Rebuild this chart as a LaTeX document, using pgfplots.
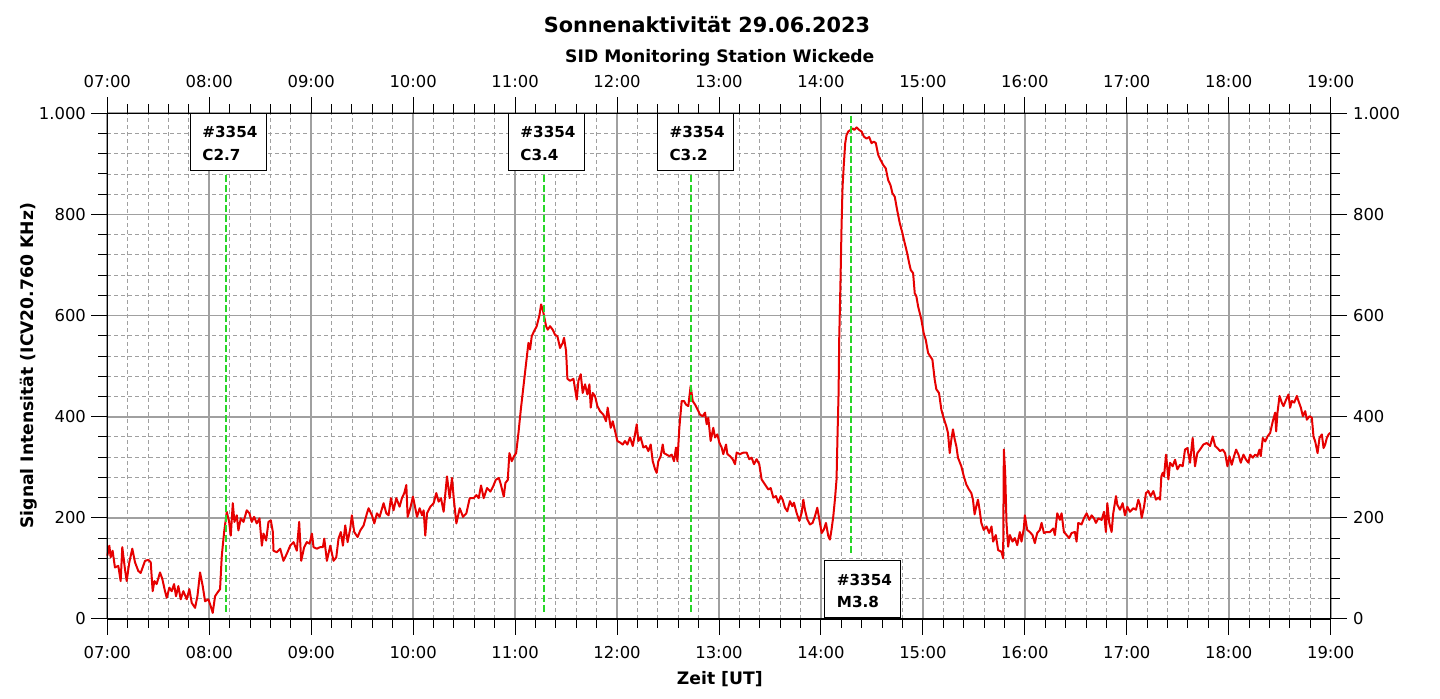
\documentclass[border=0pt]{standalone}
\usepackage{fontspec}
\setmainfont{DejaVu Sans}
\usepackage{pgfplots}
\pgfplotsset{compat=1.18}
\definecolor{sigred}{RGB}{230,0,0}
\definecolor{flgreen}{RGB}{40,215,40}
\definecolor{gridgray}{RGB}{160,160,160}
\newcommand{\tickfont}{\fontsize{8.2pt}{9.6pt}\selectfont}
\newcommand{\labfont}{\fontsize{8.6pt}{10pt}\selectfont\bfseries}
\newcommand{\boxfont}{\fontsize{7.6pt}{9pt}\selectfont\bfseries}
\newcommand{\flarebox}[3]{%
  \draw[black, line width=0.6pt, fill=white] (axis cs:#1,#2) rectangle ([xshift=38pt,yshift=-28.5pt]axis cs:#1,#2);
  \node[anchor=base west, font=\boxfont, inner sep=0pt] at ([xshift=5.85pt,yshift=-12.15pt]axis cs:#1,#2) {\#3354};
  \node[anchor=base west, font=\boxfont, inner sep=0pt] at ([xshift=5.85pt,yshift=-23.5pt]axis cs:#1,#2) {#3};
}
\pgfplotsset{
  sidbase/.style={
    at={(0,0)}, anchor=south west, scale only axis,
    width=611.7pt, height=252.85pt,
    xmin=7, xmax=19, ymin=0, ymax=1000,
    xtick={7,8,...,19},
    xticklabels={07:00,08:00,09:00,10:00,11:00,12:00,13:00,14:00,15:00,16:00,17:00,18:00,19:00},
    ytick={0,200,...,1000},
    minor x tick num=4, minor y tick num=4,
    tick align=outside, major tick length=8pt, minor tick length=4.5pt,
    tick style={black, line width=0.5pt},
    axis line style={black, line width=0.6pt},
    /pgf/number format/assume math mode=true,
    /pgf/number format/1000 sep={.},
    scaled y ticks=false,
    tick label style={font=\tickfont, inner sep=0pt},
    clip=false,
  }
}
\begin{document}
\begin{tikzpicture}
\useasboundingbox (-53.65pt,-40pt) rectangle (666.35pt,309.5pt);
\begin{axis}[sidbase,
  xticklabel pos=lower, yticklabel pos=left,
  xticklabel style={yshift=-5.35pt},
  yticklabel style={xshift=-2.5pt},
  grid=both,
  major grid style={gridgray, line width=0.9pt},
  minor grid style={gridgray, line width=0.45pt, dash pattern=on 2pt off 1.5pt},
]
\addplot[sigred, line width=1pt, line join=round] coordinates {
(7.000,125)(7.020,145)(7.033,122)(7.052,135)(7.075,102)(7.108,105)(7.131,75)(7.147,142)(7.173,99)(7.190,75)(7.216,112)(7.245,139)(7.272,112)(7.304,95)(7.327,91)(7.347,102)(7.370,115)(7.403,117)(7.426,112)(7.445,55)(7.462,75)(7.484,69)(7.517,92)(7.540,79)(7.566,55)(7.583,42)(7.609,62)(7.632,55)(7.655,69)(7.674,45)(7.697,65)(7.720,39)(7.746,55)(7.779,39)(7.805,59)(7.828,32)(7.861,22)(7.884,45)(7.910,92)(7.936,65)(7.959,35)(7.992,39)(8.015,25)(8.034,12)(8.057,45)(8.080,52)(8.106,59)(8.123,125)(8.146,172)(8.172,212)(8.195,192)(8.211,165)(8.231,229)(8.247,192)(8.270,205)(8.286,175)(8.309,199)(8.336,192)(8.368,215)(8.394,209)(8.417,192)(8.440,202)(8.466,189)(8.493,199)(8.516,145)(8.532,169)(8.558,155)(8.581,192)(8.604,195)(8.624,172)(8.630,135)(8.663,132)(8.696,139)(8.728,115)(8.761,129)(8.794,145)(8.827,152)(8.859,135)(8.882,192)(8.902,115)(8.931,142)(8.957,152)(8.984,149)(9.007,169)(9.023,142)(9.056,139)(9.088,142)(9.115,142)(9.128,159)(9.154,115)(9.187,145)(9.219,115)(9.246,122)(9.268,159)(9.291,172)(9.311,145)(9.334,185)(9.357,152)(9.383,179)(9.399,205)(9.422,172)(9.455,162)(9.481,175)(9.514,185)(9.547,209)(9.563,219)(9.596,205)(9.619,189)(9.645,209)(9.671,202)(9.710,229)(9.737,209)(9.759,205)(9.782,239)(9.808,215)(9.835,239)(9.867,222)(9.890,239)(9.913,249)(9.933,265)(9.946,202)(9.972,219)(9.998,242)(10.021,219)(10.038,202)(10.064,219)(10.087,205)(10.103,215)(10.119,165)(10.136,209)(10.169,222)(10.201,229)(10.227,249)(10.250,232)(10.273,239)(10.299,212)(10.332,282)(10.358,239)(10.381,279)(10.398,239)(10.424,189)(10.457,219)(10.489,202)(10.522,209)(10.555,239)(10.594,239)(10.620,245)(10.643,239)(10.666,264)(10.692,239)(10.725,259)(10.758,252)(10.784,262)(10.810,275)(10.840,279)(10.856,269)(10.889,242)(10.905,269)(10.928,275)
(10.944,328)(10.967,312)(10.990,322)(11.010,328)(11.033,368)(11.056,414)(11.082,460)(11.108,506)(11.131,546)(11.147,533)(11.163,559)(11.186,569)(11.212,579)(11.239,601)(11.255,622)(11.271,612)(11.288,595)(11.304,579)(11.320,572)(11.343,579)(11.369,572)(11.392,562)(11.415,559)(11.441,536)(11.467,546)(11.480,556)(11.500,530)(11.513,475)(11.539,471)(11.572,475)(11.605,434)(11.621,471)(11.644,484)(11.663,447)(11.686,464)(11.709,444)(11.729,464)(11.742,418)(11.761,447)(11.784,441)(11.807,421)(11.833,411)(11.866,404)(11.892,391)(11.908,418)(11.938,378)(11.958,391)(11.980,372)(12.003,352)(12.029,349)(12.056,345)(12.078,352)(12.101,345)(12.127,359)(12.154,342)(12.176,365)(12.193,385)(12.209,352)(12.232,359)(12.258,339)(12.284,342)(12.307,332)(12.330,345)(12.350,312)(12.373,296)(12.389,289)(12.405,312)(12.428,322)(12.448,345)(12.461,328)(12.487,325)(12.513,322)(12.536,325)(12.559,312)(12.578,339)(12.592,312)(12.611,378)(12.634,431)(12.657,431)(12.676,424)(12.699,421)(12.722,461)(12.742,431)(12.765,424)(12.788,415)(12.814,404)(12.840,401)(12.863,408)(12.879,385)(12.895,398)(12.918,352)(12.944,378)(12.961,359)(12.984,365)(13.003,349)(13.026,339)(13.042,326)(13.069,345)(13.082,326)(13.108,322)(13.134,316)(13.157,306)(13.173,329)(13.206,326)(13.239,329)(13.271,329)(13.297,316)(13.320,319)(13.343,306)(13.369,316)(13.395,306)(13.418,276)(13.441,269)(13.461,263)(13.484,256)(13.507,259)(13.533,240)(13.559,243)(13.582,230)(13.605,243)(13.624,236)(13.647,220)(13.670,213)(13.696,233)(13.719,223)(13.735,230)(13.761,210)(13.788,194)
(13.811,210)(13.827,236)(13.843,216)(13.866,197)(13.892,187)(13.918,190)(13.941,203)(13.964,220)(13.984,197)(14.007,170)(14.029,177)(14.049,190)(14.072,164)(14.088,157)(14.104,177)(14.121,203)(14.137,236)(14.153,276)(14.163,368)(14.173,447)(14.179,553)(14.192,671)(14.202,776)(14.212,855)(14.225,901)(14.238,941)(14.251,957)(14.268,964)(14.290,967)(14.310,970)(14.326,967)(14.349,972)(14.375,967)(14.398,964)(14.421,954)(14.447,950)(14.473,953)(14.496,941)(14.519,944)(14.538,941)(14.561,918)(14.584,908)(14.610,898)(14.636,891)(14.659,868)(14.682,858)(14.701,842)(14.724,835)(14.747,809)(14.773,783)(14.799,763)(14.822,743)(14.845,724)(14.865,704)(14.881,690)(14.904,684)(14.920,644)(14.936,638)(14.953,618)(14.969,605)(14.985,592)(15.008,565)(15.028,552)(15.051,526)(15.073,519)(15.093,513)(15.116,473)(15.132,454)(15.158,447)(15.181,414)(15.204,397)(15.230,381)(15.246,368)(15.263,328)(15.279,355)(15.295,375)(15.312,355)(15.328,342)(15.344,319)(15.377,302)(15.400,283)(15.426,266)(15.452,256)(15.475,249)(15.491,236)(15.507,207)(15.524,223)(15.540,236)(15.556,216)(15.573,190)
(15.597,176)(15.624,183)(15.650,170)(15.673,183)(15.689,153)(15.715,166)(15.738,136)(15.771,133)(15.787,120)(15.794,335)(15.807,289)(15.820,190)(15.836,143)(15.853,166)(15.879,153)(15.902,160)(15.925,146)(15.951,172)(15.967,153)(15.990,179)(16.000,205)(16.023,176)(16.049,172)(16.075,166)(16.098,150)(16.121,170)(16.147,176)(16.164,190)(16.187,170)(16.213,172)(16.246,172)(16.278,179)(16.295,166)(16.318,209)(16.344,196)(16.360,209)(16.383,172)(16.409,166)(16.435,160)(16.458,170)(16.491,172)(16.507,153)(16.524,190)(16.556,187)(16.579,199)(16.606,209)(16.632,196)(16.655,205)(16.678,199)(16.697,190)(16.720,199)(16.753,196)(16.776,212)(16.795,172)(16.809,229)(16.828,190)(16.851,172)(16.867,209)(16.894,243)(16.907,226)(16.933,216)(16.959,229)(16.982,205)(17.005,222)(17.031,212)(17.064,219)(17.090,216)(17.113,236)(17.129,226)(17.146,200)(17.169,222)(17.188,249)(17.211,253)(17.234,243)(17.260,253)(17.286,236)(17.309,240)(17.326,236)(17.339,282)(17.352,289)(17.365,282)(17.385,325)(17.408,276)(17.424,309)(17.450,302)(17.473,315)(17.496,296)(17.522,305)(17.548,302)(17.571,335)(17.594,338)(17.620,309)(17.646,358)(17.669,302)(17.692,328)(17.718,335)(17.751,345)(17.784,348)(17.817,342)(17.843,361)(17.866,342)(17.889,338)(17.915,332)(17.941,335)(17.964,328)(17.987,302)(18.007,322)(18.029,305)(18.052,322)(18.072,335)(18.095,325)(18.118,309)(18.144,325)(18.170,315)(18.193,309)(18.210,325)(18.236,319)(18.259,325)(18.281,322)(18.301,335)(18.314,322)(18.334,358)(18.357,351)(18.380,361)(18.406,368)(18.432,391)(18.455,408)(18.465,371)(18.478,408)(18.498,441)(18.520,428)(18.537,421)(18.563,434)(18.586,444)(18.602,418)(18.619,431)(18.642,428)(18.668,441)(18.684,431)(18.707,418)(18.727,401)(18.750,411)(18.766,394)(18.792,401)(18.815,398)(18.831,361)(18.848,351)(18.871,328)(18.890,358)(18.913,365)(18.930,338)(18.946,345)(18.962,358)(18.979,365)(18.995,368)
};
\addplot[flgreen, line width=1.1pt, dash pattern=on 3.5pt off 1.5pt] coordinates {(8.164,877)(8.164,10)};
\addplot[flgreen, line width=1.1pt, dash pattern=on 3.5pt off 1.5pt] coordinates {(11.286,877)(11.286,10)};
\addplot[flgreen, line width=1.1pt, dash pattern=on 3.5pt off 1.5pt] coordinates {(12.725,877)(12.725,10)};
\addplot[flgreen, line width=1.1pt, dash pattern=on 3.5pt off 1.5pt] coordinates {(14.295,995)(14.295,126)};
\flarebox{7.8144}{1000}{C2.7}
\flarebox{10.934}{1000}{C3.4}
\flarebox{12.396}{1000}{C3.2}
\flarebox{14.038}{115.2}{M3.8}
\end{axis}
\begin{axis}[sidbase,
  xticklabel pos=upper, yticklabel pos=right,
  xticklabel style={yshift=4.35pt},
  yticklabel style={xshift=3pt},
]
\addplot[draw=none] coordinates {(7,0)(19,1000)};
\end{axis}
\node[anchor=base, font=\fontsize{10.4pt}{12pt}\selectfont\bfseries] at (299.8pt,293pt) {Sonnenaktivität 29.06.2023};
\node[anchor=base, font=\labfont] at (306.25pt,278.35pt) {SID Monitoring Station Wickede};
\node[anchor=base, font=\labfont] at (306.25pt,-33pt) {Zeit [UT]};
\node[anchor=base, rotate=90, font=\labfont] at (-36.85pt,126.6pt) {Signal Intensität (ICV20.760 KHz)};
\end{tikzpicture}
\end{document}
